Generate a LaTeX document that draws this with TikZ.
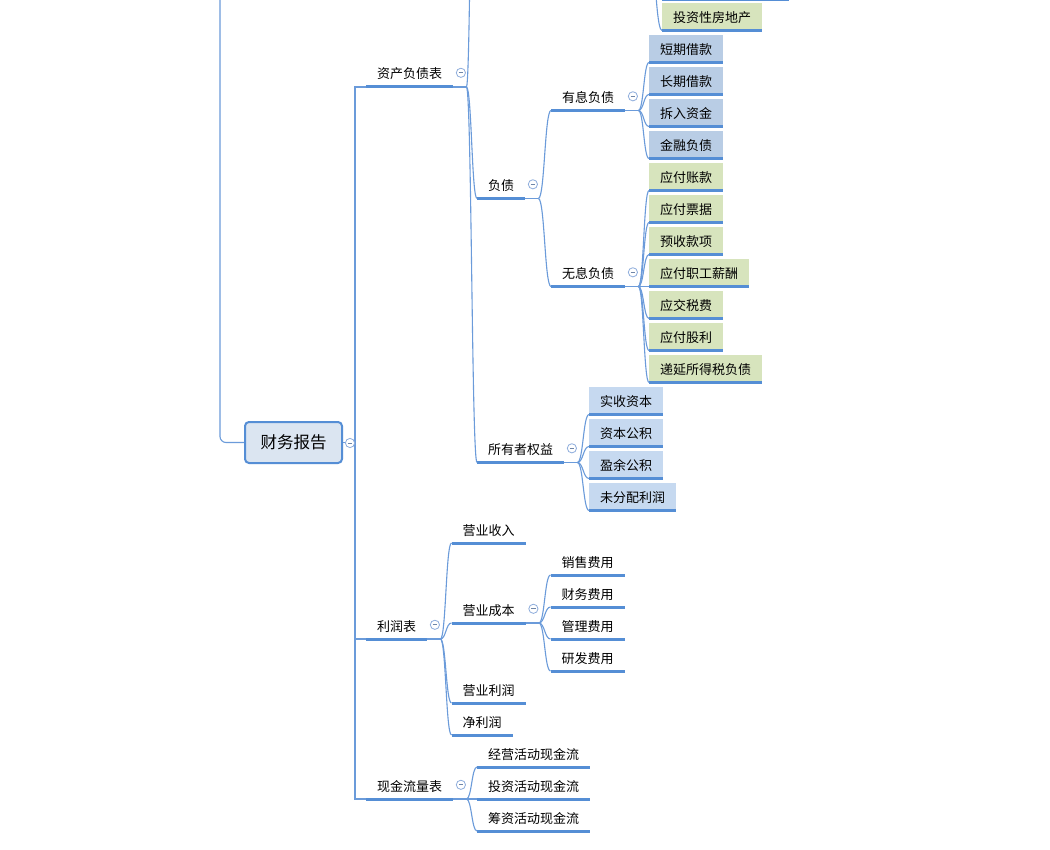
\documentclass[tikz,border=0pt]{standalone}
\usepackage{fontspec}
\newfontfamily\cjk{Noto Sans CJK SC}
\usetikzlibrary{calc}
\definecolor{ulc}{HTML}{558ED5}
\definecolor{linkc}{HTML}{6B9BDA}
\definecolor{bluebox}{HTML}{B9CDE5}
\definecolor{ownbox}{HTML}{C6D9F0}
\definecolor{greenbox}{HTML}{D7E4BD}
\definecolor{rootfill}{HTML}{DBE5F1}
\definecolor{circc}{HTML}{8EADDC}
\definecolor{minusc}{HTML}{6F86A8}
\tikzset{
  topic/.style={anchor=south west, inner xsep=11pt, inner ysep=0pt, minimum height=27pt,
    font=\cjk\fontsize{13}{13}\selectfont, text height=12.2pt, text depth=0.8pt},
  bluel/.style={topic, fill=bluebox},
  ownl/.style={topic, fill=ownbox},
  greenl/.style={topic, fill=greenbox},
  ul/.style={draw=ulc, line width=3pt},
  link/.style={draw=linkc, line width=1.1pt},
  fold/.style={circle, draw=circc, fill=white, line width=0.8pt, minimum size=9.2pt, inner sep=0pt,
    path picture={\draw[minusc, line width=0.8pt] ([xshift=-2.3pt]path picture bounding box.center) -- ([xshift=2.3pt]path picture bounding box.center);}},
  rootbox/.style={draw=ulc, line width=2pt, fill=rootfill, rounded corners=4pt, minimum width=97pt,
    minimum height=41pt, inner sep=0pt, font=\cjk\fontsize{16.5}{16.5}\selectfont}
}
\newcommand\tnode[4][topic]{\node[#1] (#2) at (#3) {#4}; \draw[ul] (#2.south west) -- (#2.south east);}
\newcommand\junc[1]{\coordinate (#1-j) at ([xshift=13pt]#1.south east); \draw[link] (#1.south east) -- (#1-j);}
\newcommand\mlink[2]{\draw[link] let \p1=(#1), \p2=(#2) in (\p1) .. controls ({(\x1+\x2)/2},\y1) and ({(\x1+\x2)/2},\y2) .. (\p2);}
\newcommand\foldmark[1]{\node[fold] (#1-f) at ([xshift=7.5pt,yshift=0.5pt]#1.east) {};}
\begin{document}
\begin{tikzpicture}[x=1pt, y=-1pt]
\useasboundingbox (0,0) rectangle (1050,850);
\fill[white] (0,0) rectangle (1050,850);
\clip (0,0) rectangle (1050,850);

% root
\node[rootbox] (root) at (293.5,442.5) {财务报告};
\coordinate (up) at (220,-10);
\draw[link, rounded corners=6pt] (root.west) -| (up);

% level 1
\tnode{bs}{366,87}{资产负债表}
\tnode{lr}{366,639}{利润表}
\tnode{xj}{366,799}{现金流量表}
\coordinate (tr) at (355,442.5);
\draw[link] (root.east) -- (tr);
\draw[link] (tr) |- (bs.south west);
\draw[link] (tr) |- (lr.south west);
\draw[link] (tr) |- (xj.south west);

% balance sheet
\tnode{fz}{477,198.5}{负债}
\tnode{syz}{477,462.5}{所有者权益}
\coordinate (zc) at (477,-500);
\junc{bs}
\mlink{bs-j}{zc}
\mlink{bs-j}{fz.south west}
\mlink{bs-j}{syz.south west}

% assets (partly visible)
\coordinate (ip) at (646,-100);
\coordinate (za) at (662,-0.5);
\draw[ul] (za) -- ++(127,0);
\tnode[greenl]{tz}{662,30.5}{投资性房地产}
\mlink{ip}{za}
\mlink{ip}{tz.south west}

% liabilities
\tnode{yx}{551,110.5}{有息负债}
\tnode{wx}{551,286.5}{无息负债}
\junc{fz}
\mlink{fz-j}{yx.south west}
\mlink{fz-j}{wx.south west}

\tnode[bluel]{l1}{649,62.5}{短期借款}
\tnode[bluel]{l2}{649,94.5}{长期借款}
\tnode[bluel]{l3}{649,126.5}{拆入资金}
\tnode[bluel]{l4}{649,158.5}{金融负债}
\junc{yx}
\foreach \k in {l1,l2,l3,l4} {\mlink{yx-j}{\k.south west}}

\tnode[greenl]{m1}{649,190.5}{应付账款}
\tnode[greenl]{m2}{649,222.5}{应付票据}
\tnode[greenl]{m3}{649,254.5}{预收款项}
\tnode[greenl]{m4}{649,286.5}{应付职工薪酬}
\tnode[greenl]{m5}{649,318.5}{应交税费}
\tnode[greenl]{m6}{649,350.5}{应付股利}
\tnode[greenl]{m7}{649,382.5}{递延所得税负债}
\junc{wx}
\foreach \k in {m1,m2,m3,m4,m5,m6,m7} {\mlink{wx-j}{\k.south west}}

% equity
\tnode[ownl]{o1}{589,414.5}{实收资本}
\tnode[ownl]{o2}{589,446.5}{资本公积}
\tnode[ownl]{o3}{589,478.5}{盈余公积}
\tnode[ownl]{o4}{589,510.5}{未分配利润}
\junc{syz}
\foreach \k in {o1,o2,o3,o4} {\mlink{syz-j}{\k.south west}}

% income statement
\tnode{r1}{451.5,543}{营业收入}
\tnode{r2}{451.5,623}{营业成本}
\tnode{r3}{451.5,703}{营业利润}
\tnode{r4}{451.5,735}{净利润}
\junc{lr}
\foreach \k in {r1,r2,r3,r4} {\mlink{lr-j}{\k.south west}}

\tnode{c1}{550.5,575}{销售费用}
\tnode{c2}{550.5,607}{财务费用}
\tnode{c3}{550.5,639}{管理费用}
\tnode{c4}{550.5,671}{研发费用}
\junc{r2}
\foreach \k in {c1,c2,c3,c4} {\mlink{r2-j}{\k.south west}}

% cash flow
\tnode{x1}{477,767}{经营活动现金流}
\tnode{x2}{477,799}{投资活动现金流}
\tnode{x3}{477,831}{筹资活动现金流}
\junc{xj}
\foreach \k in {x1,x2,x3} {\mlink{xj-j}{\k.south west}}

% fold markers
\node[fold] (root-f) at ([xshift=7pt,yshift=-0.5pt]root.east) {};
\foreach \k in {bs,fz,yx,wx,syz,lr,r2,xj} {\foldmark{\k}}
\end{tikzpicture}
\end{document}
